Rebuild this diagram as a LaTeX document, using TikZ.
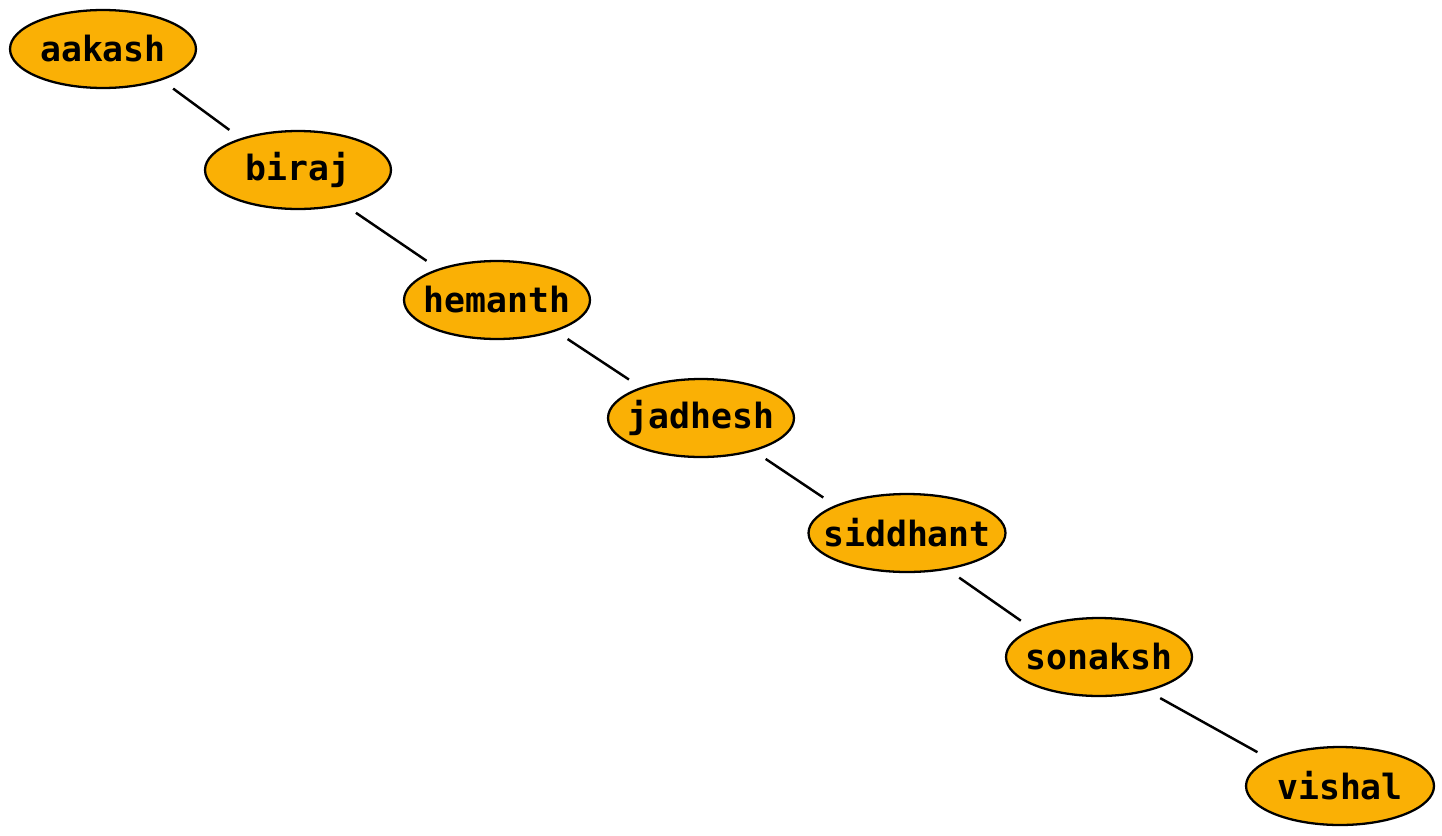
\documentclass[tikz,border=0pt]{standalone}
\usepackage{fontspec}
\setmonofont{DejaVu Sans Mono}
\usetikzlibrary{shapes.geometric}
\definecolor{nodefill}{HTML}{FAB005}
\newcommand{\nm}[1]{\makebox[0pt]{#1}}

\begin{document}
\begin{tikzpicture}[x=0.02cm,y=-0.02cm,
    friend/.style={draw,ellipse,fill=nodefill,line width=1.3pt,inner sep=0pt,
        minimum width=3.72cm,minimum height=1.56cm,
        font=\fontsize{19.8}{24}\selectfont\ttfamily\bfseries},
    link/.style={line width=1.4pt,shorten <=0.28cm,shorten >=0.28cm}]
    \useasboundingbox (0,0) rectangle (1442,835);
    \node [friend] (aakash) at (103,49) {\nm{aakash}};
    \node [friend] (biraj) at (298,170) {\nm{biraj}};
    \node [friend] (hemanth) at (497,300) {\nm{hemanth}};
    \node [friend] (jadhesh) at (701,418) {\nm{jadhesh}};
    \node [friend,minimum width=3.94cm] (siddhant) at (907,533) {\nm{siddhant}};
    \node [friend] (sonaksh) at (1099,657) {\nm{sonaksh}};
    \node [friend,minimum width=3.76cm] (vishal) at (1340,786) {\nm{vishal}};

    \path [link]
        (aakash.-28.5) edge (biraj.151.5)
        (biraj.-37) edge (hemanth.152.8)
        (hemanth.-28.8) edge (jadhesh.153.4)
        (jadhesh.-32.8) edge (siddhant.159)
        (siddhant.-42.5) edge (sonaksh.157.4)
        (sonaksh.-35) edge (vishal.159)
    ;
\end{tikzpicture}
\end{document}
